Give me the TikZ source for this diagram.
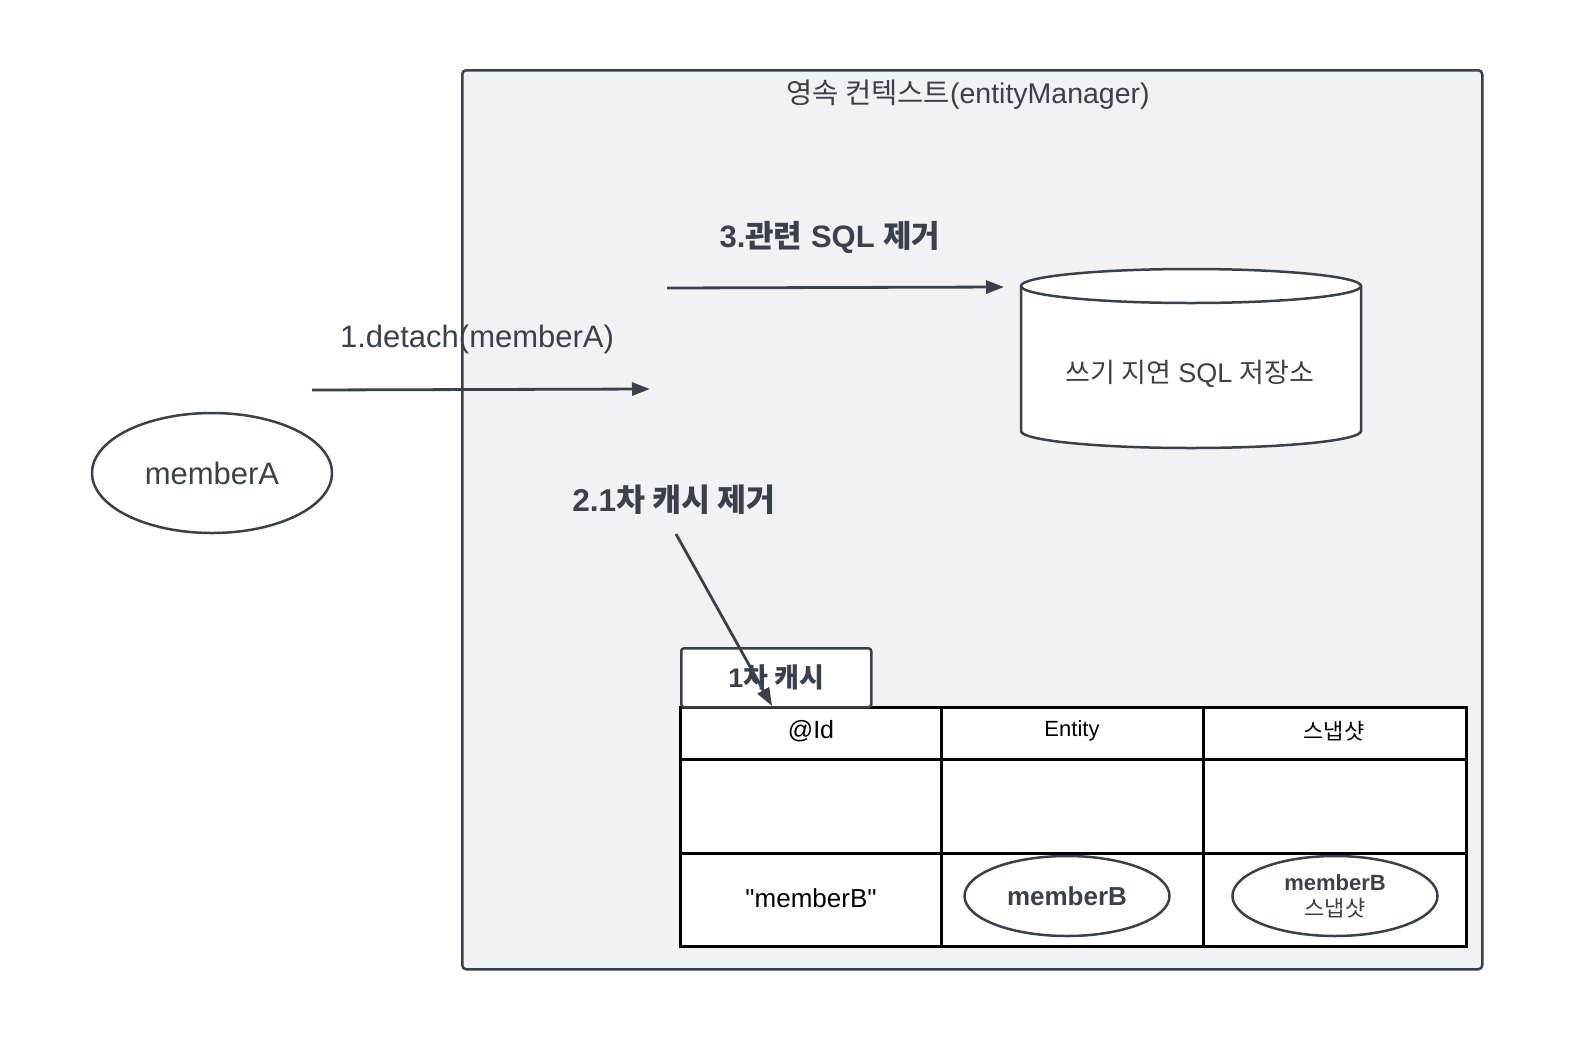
\documentclass[tikz,border=0pt]{standalone}
\usepackage{fontspec}
\setmainfont{Liberation Sans}
\newfontfamily\rawsans{Liberation Sans}
\newfontfamily\kr{Noto Sans CJK KR}
\usetikzlibrary{arrows.meta,shapes.geometric}
\definecolor{ink}{HTML}{3A414A}
\definecolor{panel}{HTML}{F1F2F4}
\tikzset{
  panelbox/.style={draw=ink, fill=panel, line width=2.5pt, rounded corners=4pt},
  flow/.style={draw=ink, line width=2.8pt, -{Triangle[length=18pt,width=13pt]}},
  oval/.style={ellipse, draw=ink, fill=white, line width=2.5pt, inner sep=0pt},
  grid/.style={draw=black, line width=3pt},
  lbl/.style={text=ink, inner sep=0pt},
}
\begin{document}
\begin{tikzpicture}[x=1pt,y=-1pt]
\useasboundingbox (0,0) rectangle (1575,1037);
\fill[white] (0,0) rectangle (1575,1037);

% persistence context panel
\node[panelbox, minimum width=1020pt, minimum height=899pt, anchor=north west] (pc) at (461,69) {};
\node[lbl, font=\fontsize{28.5}{34}\selectfont] (title) at (968,95) {{\kr 영속 컨텍스트}(entityManager)};

% write-behind SQL store (cylinder)
\fill[white] (1021,286) -- (1021,431) arc[start angle=180, end angle=0, x radius=170, y radius=17] -- (1361,286) -- cycle;
\draw[ink, line width=2.5pt] (1021,286) -- (1021,431) arc[start angle=180, end angle=0, x radius=170, y radius=17] -- (1361,286);
\draw[ink, line width=2.5pt, fill=white] (1191,286) ellipse[x radius=170, y radius=17];
\node[lbl, font=\fontsize{27}{32}\selectfont] (store) at (1190,374) {{\kr 쓰기 지연} SQL {\kr 저장소}};

% step 3
\node[lbl, font=\fontsize{31}{37}\bfseries] (s3) at (830,237) {3.{\kr\bfseries 관련} SQL {\kr\bfseries 제거}};
\coordinate (a3s) at (667,288);
\coordinate (a3e) at (1004,287);
\draw[flow] (a3s) -- (a3e);

% memberA and step 1
\node[oval, minimum width=240pt, minimum height=120pt, font=\fontsize{31}{37}\selectfont, text=ink] (ma) at (212,473) {memberA};
\node[lbl, font=\fontsize{31}{37}\selectfont] (s1) at (477,339) {1.detach(memberA)};
\coordinate (a1s) at (312,390);
\coordinate (a1e) at (650,389);
\draw[flow] (a1s) -- (a1e);

% first-level cache table
\fill[white] (680,707) rectangle (1466,946);
\draw[grid] (680,707) rectangle (1466,946);
\draw[grid] (680,759) -- (1466,759);
\draw[grid] (680,853) -- (1466,853);
\draw[grid] (941,707) -- (941,946);
\draw[grid] (1203,707) -- (1203,946);

\node[draw=ink, fill=white, line width=2.5pt, rounded corners=3pt, minimum width=190pt, minimum height=59pt, anchor=north west, text=ink, font=\fontsize{27}{32}\bfseries] (tab) at (680,647) {1{\kr\bfseries 차 캐시}};

\node[font=\fontsize{25}{30}\selectfont, text=black, inner sep=0pt] (hid) at (811,731) {@Id};
\node[font=\fontsize{22}{26}\selectfont, text=black, inner sep=0pt] (hent) at (1072,731) {Entity};
\node[font=\fontsize{22}{26}\selectfont, text=black, inner sep=0pt] (hsnap) at (1334,731) {{\kr 스냅샷}};

\node[font=\rawsans\fontsize{26}{31}\selectfont, text=black, inner sep=0pt] (key) at (811,898) {"memberB"};
\node[oval, minimum width=205pt, minimum height=80pt, text=ink, font=\fontsize{26}{31}\bfseries] (mb) at (1067,896) {memberB};
\node[oval, minimum width=205pt, minimum height=80pt, text=ink, font=\fontsize{22}{26}\bfseries, align=center] (mbs) at (1335,896) {memberB\\[0pt]{\kr\mdseries 스냅샷}};

% step 2
\node[lbl, font=\fontsize{31.5}{38}\bfseries] (s2) at (674,500) {2.1{\kr\bfseries 차 캐시 제거}};
\coordinate (a2s) at (676,534);
\coordinate (a2e) at (772,706);
\draw[flow] (a2s) -- (a2e);
\end{tikzpicture}
\end{document}
